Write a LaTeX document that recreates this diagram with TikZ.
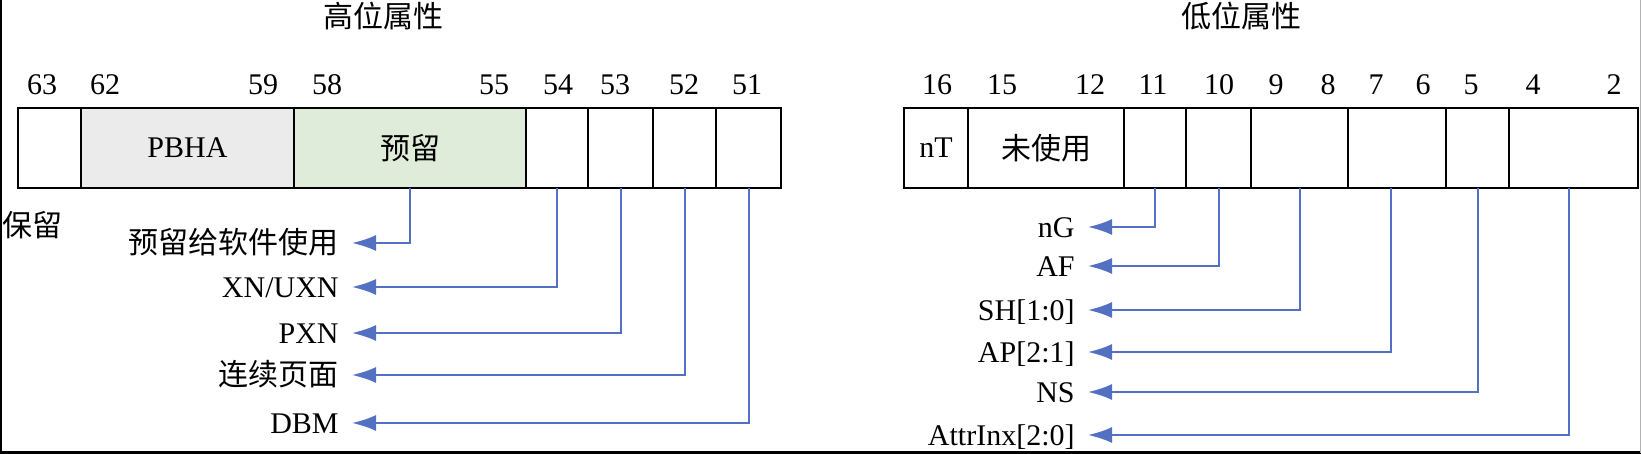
\documentclass[tikz,border=0pt]{standalone}
\usepackage{fontspec}
\setmainfont{Liberation Serif}
\newfontfamily\cjk{Noto Sans CJK SC}
\usetikzlibrary{arrows.meta,positioning}
\definecolor{pbhagray}{HTML}{EBEBEB}
\definecolor{rsvgreen}{HTML}{E0ECDA}
\definecolor{linkblue}{HTML}{5470C2}

\begin{document}
\begin{tikzpicture}[x=0.5pt,y=-0.5pt,>={Latex[length=12pt,width=8pt]},
  every node/.style={font=\fontsize{15}{18}\selectfont},
  cell/.style={draw,line width=1pt,minimum height=40pt,inner sep=0pt,outer sep=0pt},
  link/.style={->,draw=linkblue,line width=1pt},
  lbl/.style={anchor=east,inner xsep=6.5pt,inner ysep=0pt,text height=10pt,text depth=0pt}]
\useasboundingbox (0,0) rectangle (1641,454);
\draw[line width=1.2pt] (0.6,0) -- (0.6,452.5) -- (1641,452.5);
\draw[gray!60,line width=0.5pt] (1640.5,0) -- (1640.5,452.5);

% upper attributes
\node (hi) at (383,16) {\cjk 高位属性};
\node (n63) at (42,85) {63}; \node (n62) at (105,85) {62}; \node (n59) at (263,85) {59};
\node (n58) at (327,85) {58}; \node (n55) at (494,85) {55}; \node (n54) at (558,85) {54};
\node (n53) at (615,85) {53}; \node (n52) at (684,85) {52}; \node (n51) at (747,85) {51};
\node[cell,minimum width=31.5pt,anchor=north west] (c63) at (18,108) {};
\node[cell,fill=pbhagray,minimum width=106.5pt,right=0pt of c63] (c62) {PBHA};
\node[cell,fill=rsvgreen,minimum width=116pt,right=0pt of c62] (c58) {\cjk 预留};
\node[cell,minimum width=31pt,right=0pt of c58] (c54) {};
\node[cell,minimum width=32.5pt,right=0pt of c54] (c53) {};
\node[cell,minimum width=31.5pt,right=0pt of c53] (c52) {};
\node[cell,minimum width=32.5pt,right=0pt of c52] (c51) {};
\node (res) at (33,225) {\cjk 保留};
\node[lbl] (rsv) at (352,243) {\cjk 预留给软件使用};
\node[lbl] (xn) at (352,287) {XN/UXN};
\node[lbl] (pxn) at (352,333) {PXN};
\node[lbl] (cont) at (352,375) {\cjk 连续页面};
\node[lbl] (dbm) at (352,423) {DBM};
\draw[link] (c58.south) |- (rsv.east);
\draw[link] (c54.south) |- (xn.east);
\draw[link] (c53.south) |- (pxn.east);
\draw[link] (c52.south) |- (cont.east);
\draw[link] (c51.south) |- (dbm.east);

% lower attributes
\node (lo) at (1241,16) {\cjk 低位属性};
\node (n16) at (937,85) {16}; \node (n15) at (1002,85) {15}; \node (n12) at (1090,85) {12};
\node (n11) at (1153,85) {11}; \node (n10) at (1219,85) {10}; \node (n9) at (1276,85) {9};
\node (n8) at (1328,85) {8}; \node (n7) at (1376,85) {7}; \node (n6) at (1423,85) {6};
\node (n5) at (1471,85) {5}; \node (n4) at (1533,85) {4}; \node (n2) at (1614,85) {2};
\node[cell,minimum width=32pt,anchor=north west] (c16) at (904,108) {nT};
\node[cell,minimum width=78pt,right=0pt of c16] (c15) {\cjk 未使用};
\node[cell,minimum width=31pt,right=0pt of c15] (c11) {};
\node[cell,minimum width=32.5pt,right=0pt of c11] (c10) {};
\node[cell,minimum width=48.5pt,right=0pt of c10] (c9) {};
\node[cell,minimum width=49pt,right=0pt of c9] (c7) {};
\node[cell,minimum width=31.5pt,right=0pt of c7] (c5) {};
\node[cell,minimum width=64.5pt,right=0pt of c5] (c4) {};
\node[lbl] (ng) at (1088,227) {nG};
\node[lbl] (af) at (1088,266) {AF};
\node[lbl] (sh) at (1088,310) {SH[1:0]};
\node[lbl] (ap) at (1088,352) {AP[2:1]};
\node[lbl] (ns) at (1088,392) {NS};
\node[lbl] (attr) at (1088,435) {AttrInx[2:0]};
\draw[link] (c11.south) |- (ng.east);
\draw[link] (c10.south) |- (af.east);
\draw[link] (c9.south) |- (sh.east);
\draw[link] ([xshift=-3pt]c7.south) |- (ap.east);
\draw[link] (c5.south) |- (ns.east);
\draw[link] ([xshift=-2.5pt]c4.south) |- (attr.east);
\end{tikzpicture}
\end{document}
